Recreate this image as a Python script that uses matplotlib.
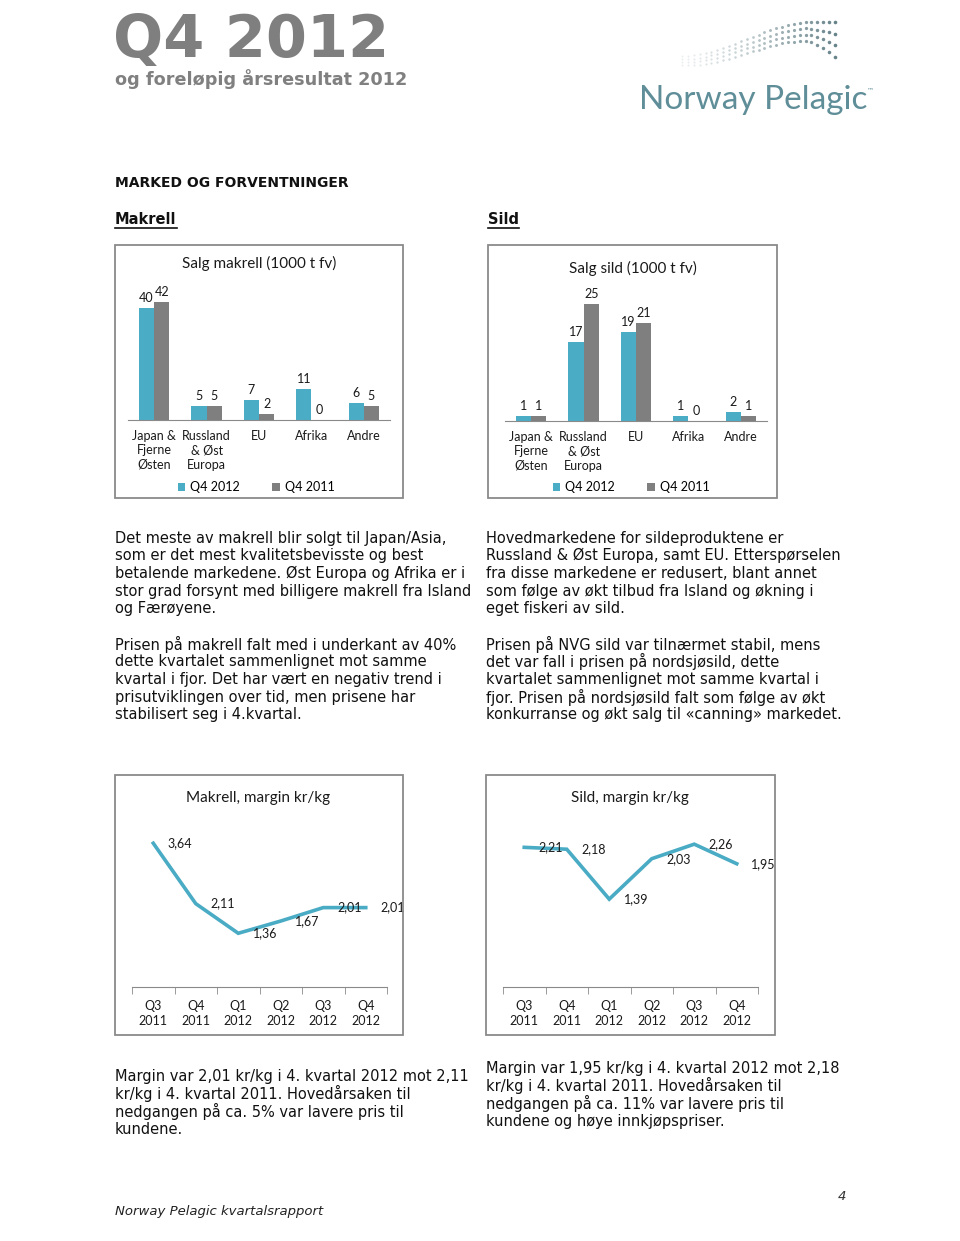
import numpy as np
import matplotlib
matplotlib.use('Agg')
from matplotlib import pyplot as plt
from matplotlib.patches import Rectangle
from matplotlib.lines import Line2D

W, H = 960, 1241

# ---- data ----
markets = ['Japan &\nFjerne\nØsten', 'Russland\n& Øst\nEuropa', 'EU', 'Afrika', 'Andre']
makrell_q4_2012 = [40, 5, 7, 11, 6]
makrell_q4_2011 = [42, 5, 2, 0, 5]
sild_q4_2012 = [1, 17, 19, 1, 2]
sild_q4_2011 = [1, 25, 21, 0, 1]

quarters = ['Q3\n2011', 'Q4\n2011', 'Q1\n2012', 'Q2\n2012', 'Q3\n2012', 'Q4\n2012']
makrell_margin = [3.64, 2.11, 1.36, 1.67, 2.01, 2.01]
sild_margin = [2.21, 2.18, 1.39, 2.03, 2.26, 1.95]

TEAL = '#4bacc6'
GRAY = '#7f7f7f'
LINE = '#4aabc4'
CHART_FONT = ['Lato', 'DejaVu Sans']
TXT = '#1a1a1a'

fig = plt.figure(figsize=(W / 100, H / 100), dpi=100)


def fx(x):
    return x / W


def fy(y):
    return 1 - y / H


def px_axes(x0, y0, x1, y1):
    # axes from pixel box (top-left origin)
    return fig.add_axes([fx(x0), fy(y1), (x1 - x0) / W, (y1 - y0) / H])


def box(x0, y0, x1, y1):
    fig.patches.append(Rectangle((fx(x0), fy(y1)), (x1 - x0) / W, (y1 - y0) / H,
                                 transform=fig.transFigure, fill=False,
                                 edgecolor='#8a8a8a', lw=1.3))


def text_lines(x, y0, lines, step=17.7, **kw):
    for i, s in enumerate(lines):
        fig.text(fx(x), fy(y0 + i * step), s, va='center', ha='left',
                 fontsize=10.5, color='#111111', **kw)


# ---- header ----
fig.text(fx(113), fy(40), 'Q4 2012', fontsize=42.5, fontweight='bold', color='#7f7f7f',
         va='center', ha='left')
fig.text(fx(115), fy(79), 'og foreløpig årsresultat 2012', fontsize=12.7, fontweight='bold',
         color='#808080', va='center', ha='left')

# logo
fig.text(fx(639), fy(100), 'Norway Pelagic', fontsize=24, color='#5f8e99',
         family=['Lato', 'DejaVu Sans'], va='center', ha='left')
fig.text(fx(867), fy(90), '™', fontsize=5, color='#5f8e99', va='center', ha='left')
# dotted wave above the logo text (decoration)
for row in range(4):
    xs = np.linspace(682, 835, 27)
    t = (xs - 682) / 153
    s = 3 * np.clip(t / 0.85, 0, 1) ** 2 - 2 * np.clip(t / 0.85, 0, 1) ** 3
    ys = 56 - 34 * s + row * (3 + 4 * t) + 60 * np.clip(t - 0.82, 0, 1) ** 1.5 * row
    for xx, yy, tt in zip(xs, ys, t):
        fig.lines.append(Line2D([fx(xx)], [fy(yy)], transform=fig.transFigure, marker='o',
                                markersize=1.4 + 1.2 * tt, color='#5a7880',
                                alpha=0.12 + 0.8 * tt ** 1.3, lw=0, markeredgewidth=0))

# section headings
fig.text(fx(115), fy(183), 'MARKED OG FORVENTNINGER', fontsize=10, fontweight='bold',
         color='#111111', va='center', ha='left')
for x, s in [(115, 'Makrell'), (488, 'Sild')]:
    t = fig.text(fx(x), fy(219), s, fontsize=10.5, fontweight='bold', color='#111111',
                 va='center', ha='left')
    fig.canvas.draw()
    bb = t.get_window_extent()
    fig.lines.append(Line2D([fx(bb.x0), fx(bb.x1)], [fy(228), fy(228)],
                            transform=fig.transFigure, color='#111111', lw=1.2))


# ---- bar charts ----
def bar_chart(frame, plot, title, title_y, v12, v11, ymax, leg_x):
    box(*frame)
    ax = px_axes(*plot)
    x = np.arange(len(markets))
    w = 0.29
    b1 = ax.bar(x - w / 2, v12, w, color=TEAL, label='Q4 2012')
    b2 = ax.bar(x + w / 2, v11, w, color=GRAY, label='Q4 2011')
    for bars, vals in [(b1, v12), (b2, v11)]:
        for r, v in zip(bars, vals):
            ax.annotate(str(v), (r.get_x() + r.get_width() / 2, v), xytext=(0, 3),
                        textcoords='offset points', ha='center', va='bottom',
                        fontsize=9, color=TXT, family=CHART_FONT)
    ax.set_xlim(-0.5, len(markets) - 0.5)
    ax.set_ylim(0, ymax)
    ax.set_xticks(x)
    ax.set_xticklabels(markets, fontsize=9, color=TXT, family=CHART_FONT, linespacing=1.25)
    ax.tick_params(axis='x', length=0, pad=7)
    ax.set_yticks([])
    for s in ['top', 'left', 'right']:
        ax.spines[s].set_visible(False)
    ax.spines['bottom'].set_color('#8a8a8a')
    ax.patch.set_alpha(0)
    fig.text(fx((frame[0] + frame[2]) / 2), fy(title_y), title, fontsize=11, color=TXT,
             family=CHART_FONT, ha='center', va='center')
    ax.legend(handles=[b1, b2], ncol=2, frameon=False, loc='center',
              bbox_to_anchor=(fx(leg_x), fy(487)), bbox_transform=fig.transFigure,
              prop={'family': CHART_FONT, 'size': 9}, handlelength=0.6, handleheight=0.6,
              handletextpad=0.4, columnspacing=2.6, borderpad=0)


bar_chart((115, 245, 403, 498), (128, 280, 390, 420), 'Salg makrell (1000 t fv)', 263,
          makrell_q4_2012, makrell_q4_2011, 50, 256)
bar_chart((488, 245, 777, 498), (505, 281, 767, 421), 'Salg sild (1000 t fv)', 268,
          sild_q4_2012, sild_q4_2011, 30, 631)


# ---- line charts ----
def line_chart(frame, plot, title, vals, ymax):
    box(*frame)
    ax = px_axes(*plot)
    x = np.arange(len(quarters))
    ax.plot(x, vals, color=LINE, lw=2.6, solid_joinstyle='miter')
    for xi, v in zip(x, vals):
        ax.annotate(f'{v:.2f}'.replace('.', ','), (xi, v), xytext=(10.5, 0),
                    textcoords='offset points', ha='left', va='center',
                    fontsize=9, color=TXT, family=CHART_FONT)
    ax.set_xlim(-0.5, len(quarters) - 0.5)
    ax.set_ylim(0, ymax)
    ax.set_xticks(x)
    ax.set_xticklabels(quarters, fontsize=9, color=TXT, family=CHART_FONT, linespacing=1.35)
    ax.set_xticks(np.arange(-0.5, len(quarters)), minor=True)
    ax.tick_params(axis='x', which='major', length=0, pad=9)
    ax.tick_params(axis='x', which='minor', length=5, color='#8a8a8a')
    ax.set_yticks([])
    for s in ['top', 'left', 'right']:
        ax.spines[s].set_visible(False)
    ax.spines['bottom'].set_color('#8a8a8a')
    ax.patch.set_alpha(0)
    fig.text(fx((frame[0] + frame[2]) / 2 - 1), fy(798), title, fontsize=11, color=TXT,
             family=CHART_FONT, ha='center', va='center')


line_chart((115, 775, 403, 1035), (132, 829, 387, 987), 'Makrell, margin kr/kg', makrell_margin, 4)
line_chart((486, 775, 775, 1035), (503, 829, 758, 987), 'Sild, margin kr/kg', sild_margin, 2.5)

# ---- body text ----
text_lines(115, 538, ['Det meste av makrell blir solgt til Japan/Asia,',
                      'som er det mest kvalitetsbevisste og best',
                      'betalende markedene. Øst Europa og Afrika er i',
                      'stor grad forsynt med billigere makrell fra Island',
                      'og Færøyene.'])
text_lines(115, 644, ['Prisen på makrell falt med i underkant av 40%',
                      'dette kvartalet sammenlignet mot samme',
                      'kvartal i fjor. Det har vært en negativ trend i',
                      'prisutviklingen over tid, men prisene har',
                      'stabilisert seg i 4.kvartal.'])
text_lines(486, 538, ['Hovedmarkedene for sildeproduktene er',
                      'Russland & Øst Europa, samt EU. Etterspørselen',
                      'fra disse markedene er redusert, blant annet',
                      'som følge av økt tilbud fra Island og økning i',
                      'eget fiskeri av sild.'])
text_lines(486, 644, ['Prisen på NVG sild var tilnærmet stabil, mens',
                      'det var fall i prisen på nordsjøsild, dette',
                      'kvartalet sammenlignet mot samme kvartal i',
                      'fjor. Prisen på nordsjøsild falt som følge av økt',
                      'konkurranse og økt salg til «canning» markedet.'])
text_lines(115, 1076, ['Margin var 2,01 kr/kg i 4. kvartal 2012 mot 2,11',
                       'kr/kg i 4. kvartal 2011. Hovedårsaken til',
                       'nedgangen på ca. 5% var lavere pris til',
                       'kundene.'])
text_lines(486, 1068, ['Margin var 1,95 kr/kg i 4. kvartal 2012 mot 2,18',
                       'kr/kg i 4. kvartal 2011. Hovedårsaken til',
                       'nedgangen på ca. 11% var lavere pris til',
                       'kundene og høye innkjøpspriser.'])

# ---- footer ----
fig.text(fx(115), fy(1212), 'Norway Pelagic kvartalsrapport', fontsize=9.5, style='italic',
         color='#222222', va='center', ha='left')
fig.text(fx(846), fy(1196), '4', fontsize=9.5, style='italic', color='#333333',
         va='center', ha='right')

fig.savefig('out.png', dpi=100, facecolor='white')
